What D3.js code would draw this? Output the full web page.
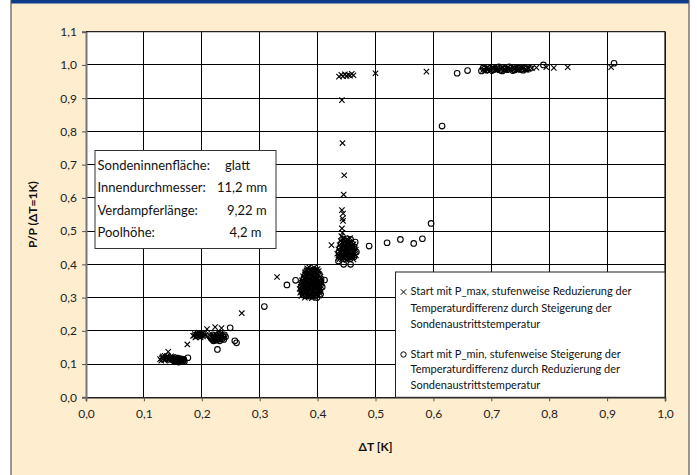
<!DOCTYPE html>
<html>
<head>
<meta charset="utf-8">
<script src="https://cdn.jsdelivr.net/npm/d3@7"></script>
<style>
body{margin:0;background:#fff}
svg{display:block;font-family:Lato,"Noto Sans",sans-serif}
</style>
</head>
<body>
<svg id="chart" width="697" height="475"></svg>
<script>
// achsen
const xTicks=[0,0.1,0.2,0.3,0.4,0.5,0.6,0.7,0.8,0.9,1.0];
const yTicks=[0,0.1,0.2,0.3,0.4,0.5,0.6,0.7,0.8,0.9,1.0,1.1];
const xTitle="\u0394T [K]";
const yTitle="P/P (\u0394T=1K)";

// Serie 1 : Start mit P_max (Kreuze)
const maxPoints=[
 [0.128,0.115],[0.132,0.120],[0.135,0.112],[0.138,0.118],[0.140,0.124],[0.142,0.137],[0.143,0.114],[0.146,0.120],
 [0.148,0.116],[0.150,0.122],[0.136,0.125],[0.130,0.110],[0.145,0.110],[0.152,0.115],[0.134,0.117],[0.141,0.119],
 [0.131,0.117],[0.137,0.113],[0.139,0.121],[0.144,0.117],[0.147,0.123],[0.149,0.112],[0.133,0.123],
 [0.175,0.159],[0.185,0.185],[0.188,0.190],[0.190,0.182],[0.193,0.188],[0.195,0.195],[0.197,0.185],[0.200,0.190],
 [0.202,0.183],[0.204,0.192],[0.206,0.187],[0.192,0.193],[0.198,0.180],[0.209,0.205],[0.223,0.211],[0.234,0.208],
 [0.187,0.186],[0.191,0.189],[0.194,0.184],[0.196,0.190],[0.199,0.186],[0.201,0.193],[0.203,0.187],[0.189,0.180],
 [0.269,0.253],[0.330,0.362],
 [0.372,0.305],[0.378,0.300],[0.384,0.303],[0.390,0.298],[0.396,0.302],[0.402,0.306],
 [0.370,0.315],[0.376,0.312],[0.382,0.318],[0.388,0.310],[0.394,0.315],[0.400,0.312],[0.406,0.318],
 [0.369,0.326],[0.375,0.330],[0.381,0.324],[0.387,0.328],[0.393,0.322],[0.399,0.330],[0.405,0.326],
 [0.371,0.340],[0.377,0.336],[0.383,0.342],[0.389,0.338],[0.395,0.344],[0.401,0.339],[0.407,0.343],
 [0.373,0.352],[0.379,0.348],[0.385,0.355],[0.391,0.350],[0.397,0.356],[0.403,0.351],
 [0.375,0.364],[0.381,0.360],[0.387,0.367],[0.393,0.362],[0.399,0.368],[0.405,0.363],
 [0.378,0.376],[0.384,0.372],[0.390,0.379],[0.396,0.374],[0.402,0.380],
 [0.382,0.388],[0.388,0.384],[0.394,0.390],[0.400,0.386],
 [0.374,0.309],[0.380,0.304],[0.386,0.307],[0.392,0.304],[0.398,0.308],[0.404,0.313],
 [0.372,0.321],[0.378,0.317],[0.384,0.322],[0.390,0.316],[0.396,0.326],[0.402,0.319],
 [0.371,0.333],[0.377,0.326],[0.383,0.330],[0.389,0.325],[0.395,0.331],[0.401,0.326],[0.406,0.335],
 [0.373,0.345],[0.379,0.341],[0.385,0.338],[0.391,0.342],[0.397,0.339],[0.403,0.343],
 [0.376,0.358],[0.382,0.351],[0.388,0.354],[0.394,0.350],[0.400,0.355],[0.405,0.349],
 [0.378,0.370],[0.384,0.363],[0.390,0.366],[0.396,0.361],[0.402,0.366],
 [0.381,0.382],[0.387,0.374],[0.393,0.376],[0.399,0.373],
 [0.385,0.392],[0.391,0.387],[0.397,0.383],
 [0.424,0.458],[0.436,0.420],[0.442,0.415],[0.448,0.418],[0.454,0.414],[0.460,0.420],
 [0.434,0.432],[0.440,0.428],[0.446,0.434],[0.452,0.430],[0.458,0.435],[0.464,0.430],
 [0.436,0.445],[0.442,0.441],[0.448,0.447],[0.454,0.442],[0.460,0.448],[0.466,0.444],
 [0.438,0.458],[0.444,0.455],[0.450,0.460],[0.456,0.456],[0.462,0.460],
 [0.440,0.470],[0.446,0.467],[0.452,0.472],[0.458,0.468],
 [0.438,0.416],[0.444,0.419],[0.450,0.413],[0.456,0.419],[0.462,0.415],
 [0.436,0.427],[0.442,0.431],[0.448,0.425],[0.454,0.428],[0.460,0.426],[0.466,0.427],
 [0.438,0.440],[0.444,0.444],[0.450,0.437],[0.456,0.441],[0.462,0.437],
 [0.440,0.452],[0.446,0.456],[0.452,0.448],[0.458,0.454],[0.464,0.450],
 [0.442,0.465],[0.448,0.470],[0.454,0.462],[0.460,0.458],
 [0.444,0.478],[0.450,0.474],[0.456,0.479],
 [0.441,0.485],[0.443,0.495],[0.442,0.508],[0.444,0.531],[0.443,0.538],[0.444,0.553],[0.442,0.563],
 [0.445,0.610],[0.446,0.668],[0.443,0.765],[0.442,0.894],
 [0.437,0.965],[0.441,0.970],[0.444,0.966],[0.447,0.972],[0.450,0.967],[0.453,0.970],[0.456,0.968],[0.459,0.973],[0.462,0.969],
 [0.500,0.975],[0.588,0.980],
 [0.686,0.985],[0.692,0.990],[0.698,0.984],[0.704,0.991],[0.710,0.985],[0.716,0.990],[0.722,0.984],[0.728,0.991],
 [0.734,0.985],[0.740,0.990],[0.746,0.984],[0.752,0.991],[0.758,0.986],[0.764,0.989],[0.770,0.990],[0.778,0.992],
 [0.689,0.983],[0.695,0.988],[0.701,0.992],[0.707,0.984],[0.713,0.987],[0.719,0.992],[0.725,0.985],[0.731,0.988],
 [0.737,0.992],[0.743,0.985],[0.749,0.987],[0.755,0.992],[0.761,0.985],
 [0.795,0.993],[0.808,0.991],[0.832,0.993],[0.907,0.993]
];

// Serie 2 : Start mit P_min (Kreise)
const minPoints=[
 [0.150,0.112],[0.153,0.108],[0.156,0.115],[0.158,0.110],[0.160,0.106],[0.162,0.113],[0.164,0.109],[0.166,0.115],
 [0.168,0.111],[0.155,0.119],[0.170,0.108],[0.159,0.118],[0.176,0.119],
 [0.152,0.114],[0.157,0.112],[0.161,0.110],[0.163,0.116],[0.167,0.108],[0.165,0.112],[0.154,0.110],[0.169,0.114],
 [0.213,0.185],[0.216,0.178],[0.219,0.188],[0.222,0.172],[0.224,0.182],[0.227,0.176],[0.229,0.190],[0.231,0.170],
 [0.234,0.180],[0.236,0.186],[0.238,0.174],[0.241,0.182],[0.220,0.170],[0.232,0.193],[0.249,0.209],[0.227,0.144],
 [0.215,0.182],[0.218,0.175],[0.221,0.185],[0.223,0.177],[0.226,0.186],[0.228,0.180],[0.230,0.175],[0.233,0.187],
 [0.235,0.176],[0.237,0.182],[0.239,0.188],[0.225,0.172],
 [0.257,0.170],[0.260,0.164],[0.308,0.273],
 [0.347,0.338],[0.362,0.352],
 [0.375,0.308],[0.381,0.306],[0.387,0.304],[0.393,0.308],[0.399,0.300],[0.405,0.310],
 [0.373,0.320],[0.379,0.322],[0.385,0.314],[0.391,0.320],[0.397,0.320],[0.403,0.322],
 [0.372,0.333],[0.378,0.320],[0.384,0.334],[0.390,0.332],[0.396,0.335],[0.402,0.334],[0.408,0.332],
 [0.374,0.346],[0.380,0.343],[0.386,0.348],[0.392,0.344],[0.398,0.347],[0.404,0.346],
 [0.376,0.357],[0.382,0.354],[0.388,0.360],[0.394,0.356],[0.400,0.359],[0.406,0.356],
 [0.379,0.369],[0.385,0.366],[0.391,0.371],[0.397,0.366],[0.403,0.371],
 [0.381,0.381],[0.387,0.378],[0.393,0.383],[0.399,0.379],[0.412,0.353],
 [0.436,0.410],[0.445,0.400],[0.457,0.400],[0.439,0.422],[0.445,0.424],[0.451,0.422],[0.457,0.425],[0.463,0.423],
 [0.437,0.438],[0.443,0.436],[0.449,0.440],[0.455,0.437],[0.461,0.440],[0.467,0.437],
 [0.439,0.451],[0.445,0.450],[0.451,0.453],[0.457,0.450],[0.463,0.453],
 [0.441,0.463],[0.447,0.462],[0.453,0.465],[0.459,0.463],[0.465,0.467],
 [0.445,0.476],[0.451,0.477],[0.457,0.475],
 [0.489,0.455],[0.520,0.465],[0.543,0.475],[0.566,0.463],[0.581,0.477],[0.596,0.523],
 [0.615,0.816],[0.641,0.975],[0.659,0.983],
 [0.683,0.982],[0.689,0.988],[0.695,0.993],[0.701,0.983],[0.707,0.988],[0.713,0.994],[0.719,0.982],[0.725,0.988],
 [0.731,0.994],[0.737,0.983],[0.743,0.988],[0.749,0.993],[0.755,0.984],[0.761,0.988],[0.767,0.990],
 [0.686,0.991],[0.692,0.984],[0.698,0.990],[0.704,0.986],[0.710,0.992],[0.716,0.984],[0.722,0.989],[0.728,0.986],
 [0.734,0.991],[0.740,0.985],[0.746,0.991],[0.752,0.986],[0.758,0.991],
 [0.790,1.000],[0.912,1.005]
];

const infoLabels=["Sondeninnenfläche:","Innendurchmesser:","Verdampferlänge:","Poolhöhe:"];
const infoValues=["glatt","11,2 mm","9,22 m","4,2 m"];
const legendMax=["Start mit P_max, stufenweise Reduzierung der","Temperaturdifferenz durch Steigerung der","Sondenaustrittstemperatur"];
const legendMin=["Start mit P_min, stufenweise Steigerung der","Temperaturdifferenz durch Reduzierung der","Sondenaustrittstemperatur"];

const svg=d3.select("#chart");
const W=697,H=475;
const plot={left:86,right:665,top:31.7,bottom:397.3};

// hintergrund
svg.append("rect").attr("x",11).attr("y",0).attr("width",678).attr("height",H).attr("fill","#ffedcf");
svg.append("rect").attr("x",11).attr("y",0).attr("width",678).attr("height",3.5).attr("fill","#0c3b8a");
svg.append("line").attr("x1",11).attr("x2",11).attr("y1",0).attr("y2",H).attr("stroke","#555").attr("stroke-width",1.2);
svg.append("line").attr("x1",689).attr("x2",689).attr("y1",0).attr("y2",H).attr("stroke","#555").attr("stroke-width",1.2);

const x=d3.scaleLinear().domain([0,1]).range([plot.left,plot.right]);
const y=d3.scaleLinear().domain([0,1.1]).range([plot.bottom,plot.top]);
const fmt=d=>d3.format(".1f")(d).replace(".",",");

svg.append("rect").attr("x",plot.left).attr("y",plot.top)
  .attr("width",plot.right-plot.left).attr("height",plot.bottom-plot.top).attr("fill","#fff");

// gitter
const grid=svg.append("g").attr("stroke","#000").attr("stroke-width",1).attr("shape-rendering","crispEdges");
grid.selectAll(".gx").data(xTicks.slice(1)).join("line")
  .attr("x1",d=>x(d)).attr("x2",d=>x(d)).attr("y1",plot.top).attr("y2",plot.bottom);
grid.selectAll(".gy").data(yTicks.slice(1)).join("line")
  .attr("y1",d=>y(d)).attr("y2",d=>y(d)).attr("x1",plot.left).attr("x2",plot.right);

// achsen
const xAxis=svg.append("g").attr("transform",`translate(0,${plot.bottom})`)
  .call(d3.axisBottom(x).tickValues(xTicks).tickFormat(fmt).tickSize(4).tickPadding(8));
const yAxis=svg.append("g").attr("transform",`translate(${plot.left},0)`)
  .call(d3.axisLeft(y).tickValues(yTicks).tickFormat(fmt).tickSize(4).tickPadding(5));
xAxis.select(".domain").attr("stroke","#222").attr("stroke-width",1.5);
yAxis.select(".domain").attr("stroke","#777").attr("stroke-width",2);
svg.selectAll(".tick line").attr("stroke","#555");
svg.selectAll(".tick text").attr("font-size",12).attr("fill","#222").attr("font-family","Lato,'Noto Sans',sans-serif");

svg.append("text").attr("x",(plot.left+plot.right)/2).attr("y",451).attr("text-anchor","middle")
  .attr("font-size",12).attr("font-weight","bold").attr("fill","#111").text(xTitle);
svg.append("text").attr("transform",`translate(37,${(plot.top+plot.bottom)/2}) rotate(-90)`).attr("text-anchor","middle")
  .attr("font-size",12).attr("font-weight","bold").attr("fill","#111").text(yTitle);

// punkte
const s=2.7;
const crossPath=`M${-s},${-s}L${s},${s}M${-s},${s}L${s},${-s}`;
svg.append("g").selectAll("path").data(maxPoints).join("path")
  .attr("transform",d=>`translate(${x(d[0])},${y(d[1])})`)
  .attr("d",crossPath).attr("stroke","#000").attr("stroke-width",1.1).attr("fill","none");
svg.append("g").selectAll("circle").data(minPoints).join("circle")
  .attr("cx",d=>x(d[0])).attr("cy",d=>y(d[1])).attr("r",2.8)
  .attr("stroke","#000").attr("stroke-width",1.1).attr("fill","none");

// rahmen oben / rechts
svg.append("path").attr("d",`M${plot.left},${plot.top}H${plot.right}V${plot.bottom}`)
  .attr("fill","none").attr("stroke","#222").attr("stroke-width",1.3);

// infobox
const info=svg.append("g");
info.append("rect").attr("x",95).attr("y",150.5).attr("width",181).attr("height",98)
  .attr("fill","#fff").attr("stroke","#333").attr("stroke-width",1);
const valueX=[225,217,227,229.5];
infoLabels.forEach((t,i)=>{
  info.append("text").attr("x",97.5).attr("y",169.5+i*22.6).attr("font-size",13).attr("fill","#111").text(t);
  info.append("text").attr("x",valueX[i]).attr("y",169.5+i*22.6).attr("font-size",13).attr("fill","#111").text(infoValues[i]);
});

// legende
const leg=svg.append("g");
leg.append("rect").attr("x",395.5).attr("y",272).attr("width",269.5).attr("height",125.3)
  .attr("fill","#fff").attr("stroke","#222").attr("stroke-width",1);
legendMax.forEach((t,i)=>{
  leg.append("text").attr("x",410.5).attr("y",295.3+i*16.2).attr("font-size",11).attr("fill","#111").text(t);
});
legendMin.forEach((t,i)=>{
  leg.append("text").attr("x",410.5).attr("y",357.8+i*15.5).attr("font-size",11).attr("fill","#111").text(t);
});
leg.append("path").attr("transform","translate(403.5,292)").attr("d",crossPath)
  .attr("stroke","#000").attr("fill","none");
leg.append("circle").attr("cx",403.5).attr("cy",354.5).attr("r",2.7)
  .attr("stroke","#000").attr("fill","none");
</script>
</body>
</html>
